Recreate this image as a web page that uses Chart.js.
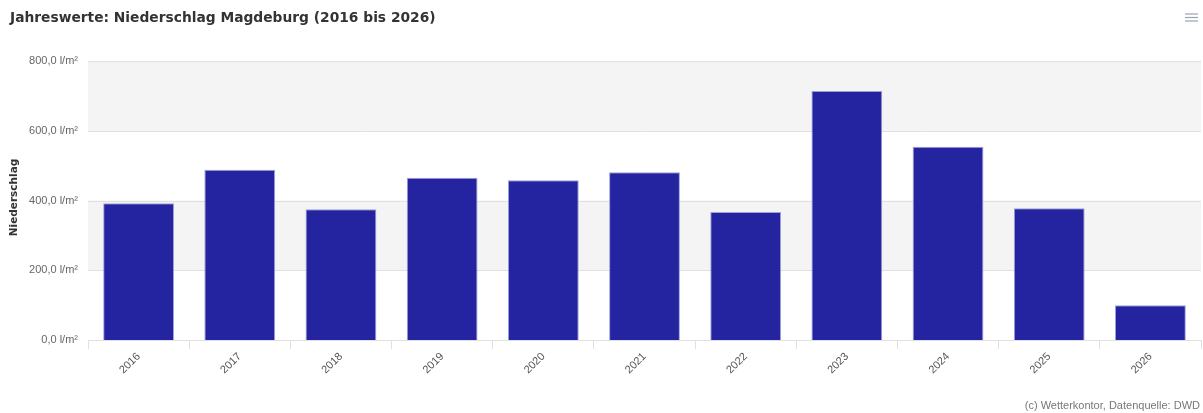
<!DOCTYPE html>
<html>
<head>
<meta charset="utf-8">
<script src="https://cdn.jsdelivr.net/npm/chart.js@4.4.1/dist/chart.umd.min.js"></script>
<style>
  html, body { margin: 0; padding: 0; background: #fff; }
  #wrap { width: 1203px; height: 413px; }
</style>
</head>
<body>
<div id="wrap"><canvas id="rainChart" width="1203" height="413"></canvas></div>
<script>
const years = ["2016", "2017", "2018", "2019", "2020", "2021", "2022", "2023", "2024", "2025", "2026"];
const rain = [392, 488, 375, 465, 458, 481, 367, 714, 554, 378, 100];
const yTicks = [0, 200, 400, 600, 800];
const bands = [[200, 400], [600, 800]];

const titleText = "Jahreswerte: Niederschlag Magdeburg (2016 bis 2026)";
const yTitleText = "Niederschlag";
const creditText = "(c) Wetterkontor, Datenquelle: DWD";
const FONT = "'Liberation Sans', Arial, sans-serif";
const BOLDFONT = "'DejaVu Sans', Verdana, sans-serif";

// grey bands, title, axis title, menu icon, credits
const decor = {
  id: "decor",
  beforeDatasetsDraw(chart) {
    const c = chart.ctx, a = chart.chartArea, y = chart.scales.y;
    c.save();
    c.fillStyle = "#f4f4f4";
    for (const [lo, hi] of bands) {
      const y1 = y.getPixelForValue(hi), y2 = y.getPixelForValue(lo);
      c.fillRect(a.left, y1, a.right - a.left, y2 - y1);
    }
    // grid lines on top of the bands
    c.strokeStyle = "#e0e0e0";
    c.lineWidth = 1;
    for (const v of yTicks) {
      const py = Math.round(y.getPixelForValue(v)) + 0.5;
      c.beginPath();
      c.moveTo(a.left, py);
      c.lineTo(a.right, py);
      c.stroke();
    }
    c.restore();
  },
  afterDraw(chart) {
    const c = chart.ctx, a = chart.chartArea;
    c.save();
    c.fillStyle = "#333";
    c.font = "bold 13.8px " + BOLDFONT;
    c.textBaseline = "alphabetic";
    c.textAlign = "left";
    c.fillText(titleText, 10, 22);

    // y axis title
    c.save();
    c.translate(17, (a.top + a.bottom) / 2 - 3);
    c.rotate(-Math.PI / 2);
    c.font = "bold 10.5px " + BOLDFONT;
    c.textAlign = "center";
    c.fillText(yTitleText, 0, 0);
    c.restore();

    c.fillStyle = "#777";
    c.font = "11px " + FONT;
    c.textAlign = "right";
    c.fillText(creditText, 1200, 409);

    c.strokeStyle = "#9aa3b0";
    c.lineWidth = 1.2;
    for (const ly of [14, 17.5, 21]) {
      c.beginPath();
      c.moveTo(1185, ly);
      c.lineTo(1198, ly);
      c.stroke();
    }
    c.restore();
  }
};

new Chart(document.getElementById("rainChart"), {
  type: "bar",
  data: {
    labels: years,
    datasets: [{
      label: "Niederschlag",
      data: rain,
      backgroundColor: "#2424a0",
      borderColor: "rgba(150,150,215,0.9)",
      borderWidth: 1,
      barPercentage: 0.7,
      categoryPercentage: 1.0
    }]
  },
  options: {
    responsive: false,
    animation: false,
    layout: { padding: { top: 61, right: 2, left: 0, bottom: 0 } },
    plugins: {
      legend: { display: false },
      tooltip: { enabled: false }
    },
    scales: {
      x: {
        offset: true,
        grid: {
          offset: true,
          drawOnChartArea: false,
          drawTicks: true,
          tickLength: 9,
          color: "#e0e0e0"
        },
        border: { display: true, color: "#e0e0e0" },
        ticks: {
          color: "#555",
          font: { family: FONT, size: 11 },
          minRotation: 45,
          maxRotation: 45,
          padding: 1
        },
        afterFit(scale) { scale.height = 73; }
      },
      y: {
        min: 0,
        max: 800,
        afterBuildTicks(scale) { scale.ticks = yTicks.map(v => ({ value: v })); },
        grid: { display: false, drawTicks: false },
        border: { display: false },
        ticks: {
          color: "#666",
          font: { family: FONT, size: 11 },
          padding: 10,
          callback: v => v.toFixed(1).replace(".", ",") + " l/m²"
        },
        afterFit(scale) { scale.width = 88; }
      }
    }
  },
  plugins: [decor]
});
</script>
</body>
</html>
